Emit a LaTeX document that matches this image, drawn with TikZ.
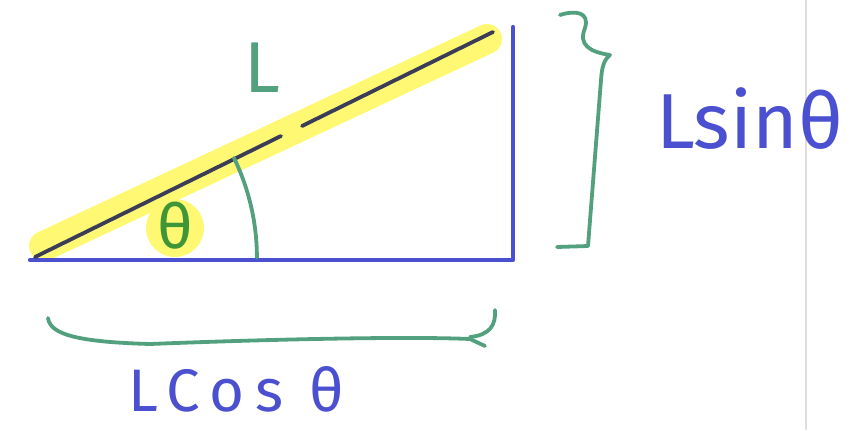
\documentclass[tikz,border=0pt]{standalone}
\usepackage{fontspec}
\setmainfont{Fira Sans}
\definecolor{penblue}{RGB}{74,80,208}
\definecolor{pengreen}{RGB}{82,160,125}
\definecolor{thetagreen}{RGB}{62,150,55}
\definecolor{hiyellow}{RGB}{255,248,115}
\definecolor{pendark}{RGB}{58,60,88}
\definecolor{edgegray}{RGB}{222,222,222}
\begin{document}
\begin{tikzpicture}[x=1pt,y=-1pt,line cap=round,line join=round,
  bluepen/.style={draw=penblue,line width=4.2pt},
  greenpen/.style={draw=pengreen,line width=3.8pt},
  darkpen/.style={draw=pendark,line width=3.8pt},
  highlight/.style={draw=hiyellow,line width=30pt},
  lbl/.style={inner sep=0pt,anchor=base west,text depth=0pt}]
\useasboundingbox (0,0) rectangle (861,429);
% page edge
\draw[edgegray,line width=2pt] (806,0) -- (806,429);
% coordinates
\coordinate (A) at (30,260);
\coordinate (B) at (513,260);
\coordinate (C) at (513,27);
\coordinate (H1) at (35,257);
\coordinate (H2) at (281,136);
\coordinate (H3) at (302,126);
\coordinate (H4) at (493,32);
% highlights
\draw[highlight] (44,246) -- (487,39);
\fill[hiyellow] (175,228) circle (29);
% triangle
\draw[bluepen] (A) -- (B) -- (C);
% hypotenuse (with gap)
\draw[darkpen] (H1) -- (H2);
\draw[darkpen] (H3) -- (H4);
% angle arc
\draw[greenpen] (234,158) arc[start angle=-25.9,end angle=0,radius=228,y radius=228] ;
% theta in triangle
\node[text=thetagreen,font=\fontsize{62}{62}\selectfont,inner sep=0pt] (th) at (175,226) {θ};
% L label
\node[text=pengreen,font=\fontsize{72}{72}\selectfont,lbl] (lL) at (244,92) {L};
% right brace
\draw[greenpen] (560,15) .. controls (575,10) and (590,12) .. (585,28)
  .. controls (578,45) and (590,52) .. (610,55)
  .. controls (604,60) and (602,66) .. (601,80)
  -- (588,246) -- (557,247);
% Lsin theta
\node[text=penblue,font=\fontsize{78}{78}\selectfont,lbl] (lsin) at (656,148) {Lsinθ};
% bottom brace
\draw[greenpen] (48,318) .. controls (50,335) and (80,342) .. (150,344)
  .. controls (250,340) and (400,336) .. (470,339) -- (485,346);
\draw[greenpen] (495,310) .. controls (496,325) and (490,335) .. (470,337);
% L cos theta
\node[text=penblue,font=\fontsize{60}{60}\selectfont\addfontfeature{LetterSpace=18},lbl] (lcos) at (128,411) {LCos θ};
\end{tikzpicture}
\end{document}
